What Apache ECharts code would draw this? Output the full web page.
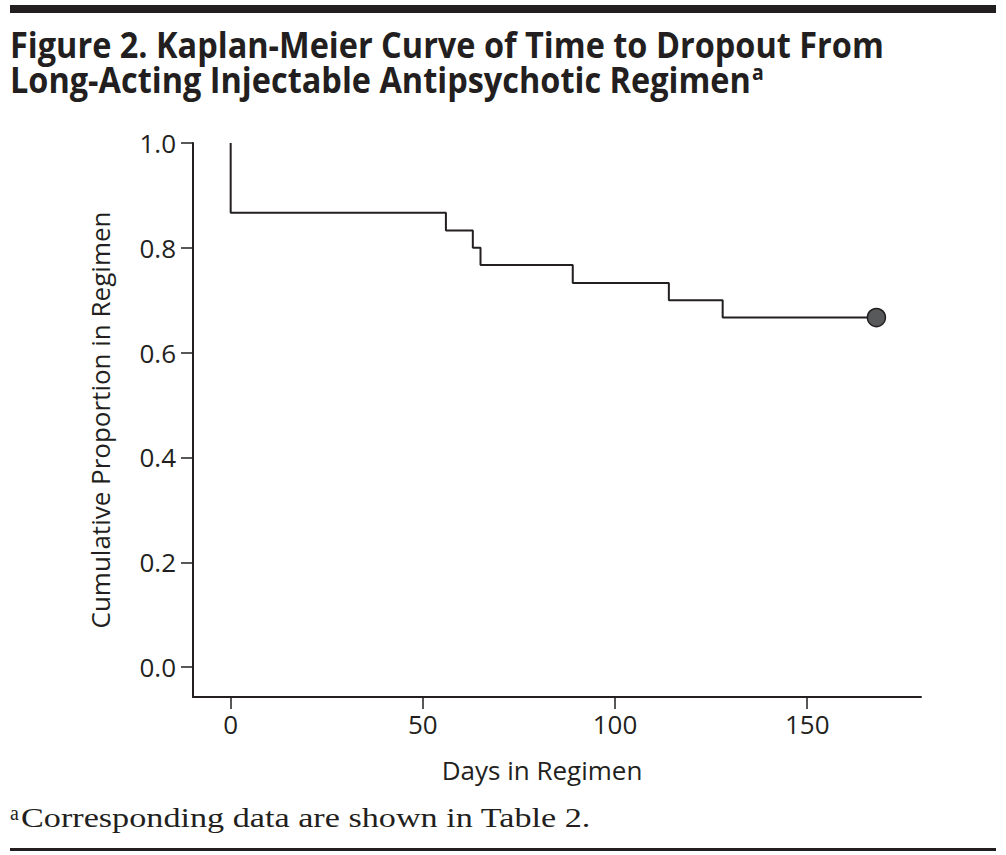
<!DOCTYPE html>
<html>
<head>
<meta charset="utf-8">
<script src="https://cdn.jsdelivr.net/npm/echarts@6/dist/echarts.min.js"></script>
<style>
html,body{margin:0;padding:0;background:#fff;}
#chart{width:1006px;height:855px;}
</style>
</head>
<body>
<div id="chart"></div>
<script>
// ---- data ----
const days = [0, 0, 56, 63, 65, 89, 114, 128, 168];
const proportion = [1.0, 0.867, 0.833, 0.8, 0.767, 0.733, 0.7, 0.667, 0.667];
const censoredDays = [168];
const censoredProportion = [0.667];
const xTicks = [0, 50, 100, 150];
const yTicks = [0.0, 0.2, 0.4, 0.6, 0.8, 1.0];
const titleLine1 = 'Figure 2. Kaplan-Meier Curve of Time to Dropout From';
const titleLine2 = 'Long-Acting Injectable Antipsychotic Regimen';
const titleSup = 'a';
const footSup = 'a';
const footText = 'Corresponding data are shown in Table 2.';
const xName = 'Days in Regimen';
const yName = 'Cumulative Proportion in Regimen';

// ---- layout helpers ----
const ink = '#231f20';
const sans = '"Open Sans", sans-serif';
const ctx = document.createElement('canvas').getContext('2d');
function measure(text, font) { ctx.font = font; return ctx.measureText(text).width; }
const titleFont = 'bold 35px "Open Sans"';
const titleScale = 874 / measure(titleLine1, titleFont);
const line2W = measure(titleLine2, titleFont) * titleScale;
const footFont = '27px "Liberation Serif"';
const footScale = 570 / measure(footText, footFont);

const lineData = days.map((d, i) => [d, proportion[i]]);
const censData = censoredDays.map((d, i) => [d, censoredProportion[i]]);

const axisText = { fontFamily: sans, fontSize: 26, color: ink };

const chart = echarts.init(document.getElementById('chart'), null, { renderer: 'svg' });
chart.setOption({
  animation: false,
  backgroundColor: '#fff',
  grid: { left: 193, top: 143, right: 85, bottom: 158 },
  xAxis: {
    type: 'value', min: -9.8, max: 179.6,
    name: xName, nameLocation: 'middle', nameGap: 60,
    nameTextStyle: Object.assign({ padding: [0, 30, 0, 0] }, axisText),
    axisLine: { show: true, onZero: false, lineStyle: { color: ink, width: 2 } },
    axisTick: { show: true, length: 12, lineStyle: { color: ink, width: 1.5 }, customValues: xTicks },
    axisLabel: Object.assign({ margin: 14, customValues: xTicks }, axisText),
    splitLine: { show: false }
  },
  yAxis: {
    type: 'value', min: -0.057, max: 1.0,
    name: yName, nameLocation: 'middle', nameGap: 80, nameRotate: 90,
    nameTextStyle: axisText,
    axisLine: { show: true, onZero: false, lineStyle: { color: ink, width: 2 } },
    axisTick: { show: true, length: 12, lineStyle: { color: ink, width: 1.5 }, customValues: yTicks },
    axisLabel: Object.assign({ margin: 17, customValues: yTicks, formatter: v => v.toFixed(1) }, axisText),
    splitLine: { show: false }
  },
  series: [
    {
      type: 'line', step: 'end', data: lineData, showSymbol: false, symbol: 'none',
      lineStyle: { color: ink, width: 2 }, z: 2
    },
    {
      type: 'scatter', data: censData, symbol: 'circle', symbolSize: 18,
      itemStyle: { color: '#58595b', borderColor: ink, borderWidth: 1.5, opacity: 1 }, z: 5
    }
  ],
  graphic: [
    { type: 'rect', shape: { x: 10, y: 5, width: 986, height: 8 }, style: { fill: ink } },
    { type: 'text', x: 10, y: 45, scaleX: titleScale, originX: 0,
      style: { text: titleLine1, font: titleFont, fill: ink, verticalAlign: 'middle', align: 'left' } },
    { type: 'text', x: 10, y: 80, scaleX: titleScale, originX: 0,
      style: { text: titleLine2, font: titleFont, fill: ink, verticalAlign: 'middle', align: 'left' } },
    { type: 'text', x: 10 + line2W + 1, y: 72, scaleX: titleScale, originX: 0,
      style: { text: titleSup, font: 'bold 21px "Open Sans"', fill: ink, verticalAlign: 'middle', align: 'left' } },
    { type: 'text', x: 10, y: 813,
      style: { text: footSup, font: '20px "Liberation Serif"', fill: ink, verticalAlign: 'middle', align: 'left' } },
    { type: 'text', x: 21, y: 818, scaleX: footScale, originX: 0,
      style: { text: footText, font: footFont, fill: ink, verticalAlign: 'middle', align: 'left' } },
    { type: 'rect', shape: { x: 10, y: 848, width: 986, height: 3 }, style: { fill: ink } }
  ]
});
</script>
</body>
</html>
